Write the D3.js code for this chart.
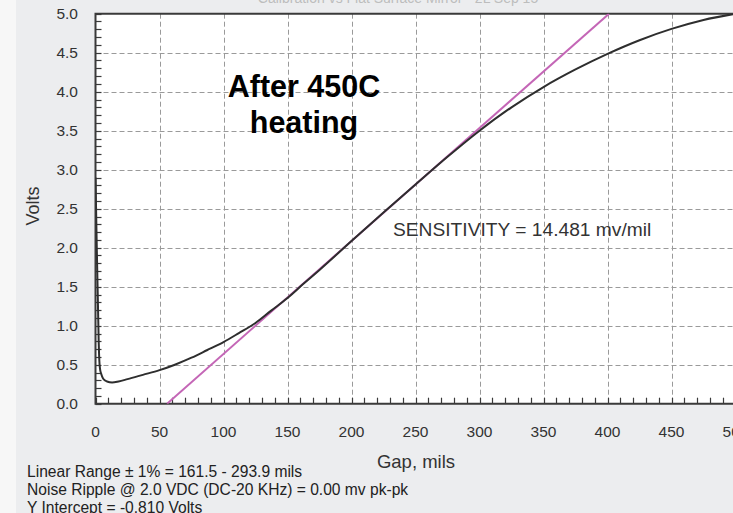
<!DOCTYPE html>
<html>
<head>
<meta charset="utf-8">
<script src="https://cdn.jsdelivr.net/npm/d3@7"></script>
<style>
  html, body { margin: 0; padding: 0; background: #f8f8f8; }
  svg { display: block; }
  text { font-family: "Liberation Sans", Arial, Helvetica, sans-serif; }
</style>
</head>
<body>
<svg id="chart" width="733" height="513"></svg>
<script>
// Probe output vs gap (calibration curve)
const gapMils = [0, 1, 2, 2.5, 3, 3.5, 4.5, 6, 9, 13, 18, 25, 37, 50, 62, 75, 87, 100, 112, 125, 137, 150,
                 162, 175, 200, 225, 250, 275, 300, 325, 350, 375, 400, 425, 450, 475, 500];
const volts   = [2.9, 2.0, 1.2, 0.8, 0.55, 0.45, 0.38, 0.32, 0.285, 0.272, 0.285, 0.315, 0.37, 0.43, 0.5, 0.59, 0.685, 0.79, 0.905, 1.035, 1.19, 1.355,
                 1.53, 1.715, 2.085, 2.45, 2.81, 3.165, 3.50, 3.80, 4.06, 4.285, 4.485, 4.66, 4.805, 4.92, 5.0];

// Best-fit straight line
const sensitivityMvPerMil = 14.481;
const interceptVolts = -0.810;

// Axis ticks
const xTicks = [0, 50, 100, 150, 200, 250, 300, 350, 400, 450, 500];
const yTicks = [0.0, 0.5, 1.0, 1.5, 2.0, 2.5, 3.0, 3.5, 4.0, 4.5, 5.0];

// Text blocks
const titleText = "Calibration vs Flat Surface Mirror - 2L Sep 15";
const noteLines = ["After 450C", "heating"];
const sensitivityText = "SENSITIVITY = 14.481 mv/mil";
const footerLines = [
  "Linear Range \u00b1 1% = 161.5 - 293.9 mils",
  "Noise Ripple @ 2.0 VDC (DC-20 KHz) = 0.00 mv pk-pk",
  "Y Intercept = -0.810 Volts"
];

const svg = d3.select("#chart");
const W = 733, H = 513;
const plot = { left: 95.5, top: 13.7, right: 735.5, bottom: 403.7 };

const x = d3.scaleLinear().domain([0, 500]).range([plot.left, plot.right]);
const y = d3.scaleLinear().domain([0, 5]).range([plot.bottom, plot.top]);

// Panel background
svg.append("rect").attr("x", 0).attr("y", 0).attr("width", W).attr("height", H).attr("fill", "#f7f7f7");
svg.append("rect").attr("x", 16).attr("y", 0).attr("width", W - 16).attr("height", H).attr("fill", "#ecedef");

// Title (runs off the top edge)
svg.append("text")
  .attr("x", 398).attr("y", 2.5)
  .attr("text-anchor", "middle")
  .attr("font-size", 14)
  .attr("fill", "#bdbdbd")
  .text(titleText);

// Plot area
svg.append("rect")
  .attr("x", plot.left).attr("y", plot.top)
  .attr("width", plot.right - plot.left).attr("height", plot.bottom - plot.top)
  .attr("fill", "#ffffff");

const clip = svg.append("defs").append("clipPath").attr("id", "plotClip");
clip.append("rect")
  .attr("x", plot.left).attr("y", plot.top)
  .attr("width", plot.right - plot.left).attr("height", plot.bottom - plot.top);

// Dashed grid
const grid = svg.append("g").attr("stroke", "#9a9a9a").attr("stroke-width", 1).attr("stroke-dasharray", "5,3");
grid.selectAll("line.gx").data(xTicks.filter(d => d > 0)).join("line")
  .attr("class", "gx")
  .attr("x1", d => Math.round(x(d)) + 0.5).attr("x2", d => Math.round(x(d)) + 0.5)
  .attr("y1", plot.top).attr("y2", plot.bottom);
grid.selectAll("line.gy").data(yTicks.filter(d => d > 0 && d < 5)).join("line")
  .attr("class", "gy")
  .attr("x1", plot.left).attr("x2", plot.right)
  .attr("y1", d => Math.round(y(d)) + 0.5).attr("y2", d => Math.round(y(d)) + 0.5);

// Minor ticks pointing into the plot
const minorY = d3.range(0, 51).map(i => i / 10);
const minorX = d3.range(0, 51).map(i => i * 10);
const ticks = svg.append("g").attr("stroke", "#3a3a3a").attr("stroke-width", 1.2);
ticks.selectAll("line.ty").data(minorY).join("line")
  .attr("class", "ty")
  .attr("x1", plot.left).attr("x2", plot.left + 6)
  .attr("y1", d => Math.round(y(d)) + 0.5).attr("y2", d => Math.round(y(d)) + 0.5);
ticks.selectAll("line.tx").data(minorX).join("line")
  .attr("class", "tx")
  .attr("x1", d => Math.round(x(d)) + 0.5).attr("x2", d => Math.round(x(d)) + 0.5)
  .attr("y1", plot.bottom).attr("y2", plot.bottom - 6);

// Frame
const frame = svg.append("g").attr("stroke", "#3a3a3a").attr("stroke-width", 2).attr("fill", "none");
frame.append("path").attr("d",
  `M${plot.right},${plot.top}H${plot.left}V${plot.bottom}H${plot.right}`);

// Fit line from sensitivity and intercept
const slopeVPerMil = sensitivityMvPerMil / 1000;
const fitX0 = (0 - interceptVolts) / slopeVPerMil;
const fitX1 = (5 - interceptVolts) / slopeVPerMil;
const fitPts = [fitX0, fitX1].map(g => [g, interceptVolts + slopeVPerMil * g]);
svg.append("path")
  .attr("clip-path", "url(#plotClip)")
  .attr("d", d3.line().x(d => x(d[0])).y(d => y(d[1]))(fitPts))
  .attr("fill", "none")
  .attr("stroke", "#c466b6")
  .attr("stroke-width", 2);

// Calibration curve
const curvePts = gapMils.map((g, i) => [g, volts[i]]);
svg.append("path")
  .attr("clip-path", "url(#plotClip)")
  .attr("d", d3.line().x(d => x(d[0])).y(d => y(d[1])).curve(d3.curveMonotoneX)(curvePts))
  .attr("fill", "none")
  .attr("stroke", "#2e2e2e")
  .attr("stroke-width", 2);

// Tick labels
svg.append("g").selectAll("text").data(yTicks).join("text")
  .attr("x", 78).attr("y", d => y(d) + 5.5)
  .attr("text-anchor", "end")
  .attr("font-size", 15.5)
  .attr("fill", "#333")
  .text(d => d3.format(".1f")(d));
svg.append("g").selectAll("text").data(xTicks).join("text")
  .attr("x", d => x(d)).attr("y", 437)
  .attr("text-anchor", "middle")
  .attr("font-size", 15.5)
  .attr("fill", "#333")
  .text(d => d);

// Axis titles
svg.append("text")
  .attr("transform", "translate(39,206) rotate(-90)")
  .attr("text-anchor", "middle")
  .attr("font-size", 18)
  .attr("fill", "#333")
  .text("Volts");
svg.append("text")
  .attr("x", 416).attr("y", 468)
  .attr("text-anchor", "middle")
  .attr("font-size", 18.5)
  .attr("fill", "#333")
  .text("Gap, mils");

// Annotations
svg.append("g").selectAll("text").data(noteLines).join("text")
  .attr("x", 304).attr("y", (d, i) => 97 + i * 36)
  .attr("text-anchor", "middle")
  .attr("font-size", 30.5)
  .attr("font-weight", "bold")
  .attr("fill", "#000")
  .text(d => d);
svg.append("text")
  .attr("x", 393).attr("y", 236)
  .attr("font-size", 19.2)
  .attr("fill", "#333")
  .text(sensitivityText);

// Footer notes
svg.append("g").selectAll("text").data(footerLines).join("text")
  .attr("x", 27).attr("y", (d, i) => 477 + i * 18)
  .attr("font-size", 15.6)
  .attr("fill", "#222")
  .text(d => d);
</script>
</body>
</html>
